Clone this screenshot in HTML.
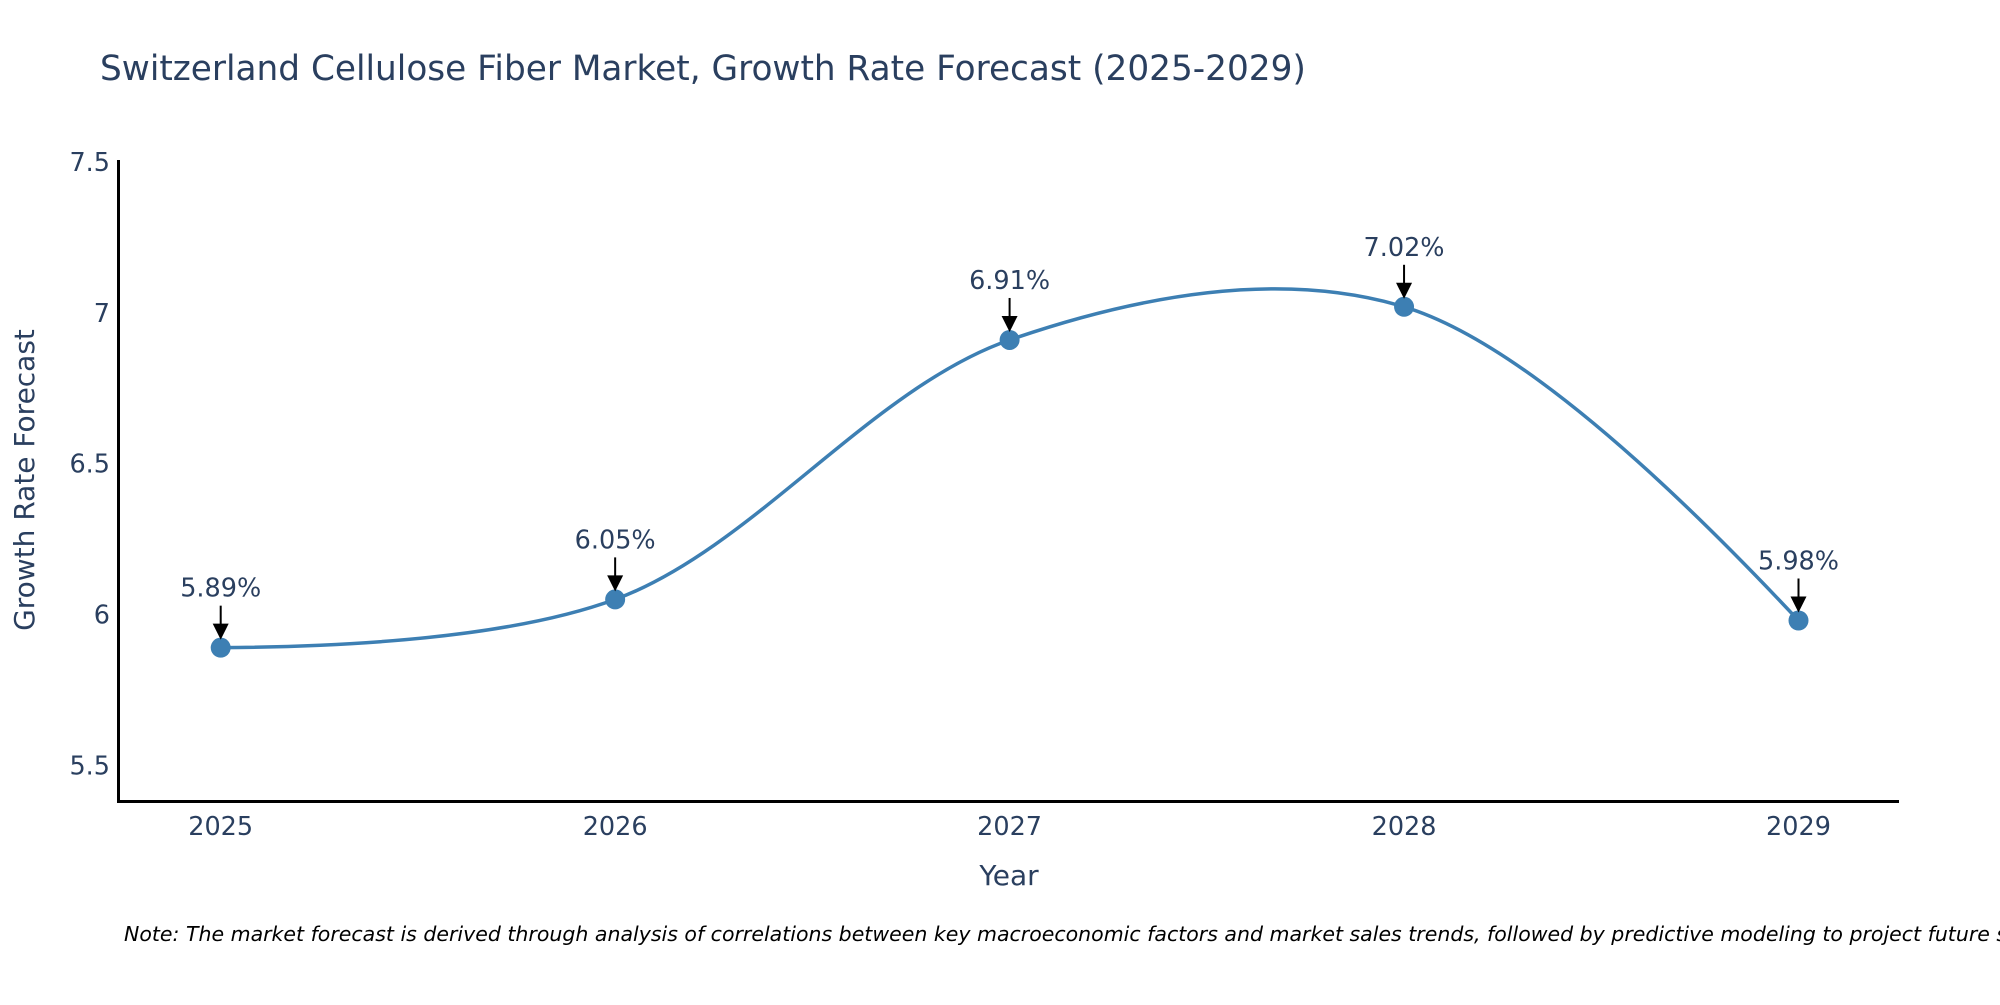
<!DOCTYPE html>
<html><head><meta charset="utf-8"><style>
body{margin:0;background:#fff;width:2000px;height:1000px;overflow:hidden;font-family:"Liberation Sans","DejaVu Sans",sans-serif}
</style></head><body>
<svg id="chart" width="2000" height="1000" viewBox="0 0 2000 1000" xmlns="http://www.w3.org/2000/svg">
<text x="100" y="80" font-size="34.3" fill="#2a3f5f" font-family="DejaVu Sans, sans-serif">Switzerland Cellulose Fiber Market, Growth Rate Forecast (2025-2029)</text>
<g id="yticks"></g><g id="xticks"></g>
<line x1="118.5" y1="160" x2="118.5" y2="802" stroke="#000" stroke-width="3"/>
<line x1="117" y1="801.5" x2="1899" y2="801.5" stroke="#000" stroke-width="3"/>
<path id="curve" fill="none" stroke="#3d7fb3" stroke-width="3.5"/>
<g id="marks"></g>
<text transform="translate(34,480) rotate(-90)" text-anchor="middle" font-size="28" fill="#2a3f5f" font-family="DejaVu Sans, sans-serif">Growth Rate Forecast</text>
<text x="1009" y="885" text-anchor="middle" font-size="28" fill="#2a3f5f" font-family="DejaVu Sans, sans-serif">Year</text>
<text x="124" y="941" font-size="20.5" font-style="italic" fill="#000" font-family="DejaVu Sans, sans-serif">Note: The market forecast is derived through analysis of correlations between key macroeconomic factors and market sales trends, followed by predictive modeling to project future sales.</text>
</svg>
<script>
const years=[2025,2026,2027,2028,2029];
const values=[5.89,6.05,6.91,7.02,5.98];
const labels=["5.89%","6.05%","6.91%","7.02%","5.98%"];
const yTicks=[5.5,6,6.5,7,7.5];
const yTickLabels=["5.5","6","6.5","7","7.5"];
const NS="http://www.w3.org/2000/svg";
const X=v=>220.7+(v-2025)*(1798.5-220.7)/4;
const Y=v=>765.3-(v-5.5)*(765.3-162)/2;
function mk(t,a,p){const e=document.createElementNS(NS,t);for(const k in a)e.setAttribute(k,a[k]);p.appendChild(e);return e;}
const yt=document.getElementById('yticks');
yTicks.forEach((v,i)=>{const t=mk('text',{x:110,y:Y(v)+9,'text-anchor':'end','font-size':25.5,fill:'#2a3f5f','font-family':'DejaVu Sans, sans-serif'},yt);


t.textContent=yTickLabels[i];});
const xt=document.getElementById('xticks');
years.forEach(v=>{const t=mk('text',{x:X(v),y:835,'text-anchor':'middle','font-size':25.5,fill:'#2a3f5f','font-family':'DejaVu Sans, sans-serif'},xt);


t.textContent=v;});
const pts=years.map((y,i)=>[X(y),Y(values[i])]);
function tan(p,c,n,s){const d1x=p[0]-c[0],d1y=p[1]-c[1],d2x=n[0]-c[0],d2y=n[1]-c[1];
const d1a=Math.pow(d1x*d1x+d1y*d1y,0.25),d2a=Math.pow(d2x*d2x+d2y*d2y,0.25);
const nx=(d2a*d2a*d1x-d1a*d1a*d2x)*s,ny=(d2a*d2a*d1y-d1a*d1a*d2y)*s;
const dn1=3*d2a*(d1a+d2a),dn2=3*d1a*(d1a+d2a);
return [[c[0]+nx/dn1,c[1]+ny/dn1],[c[0]-nx/dn2,c[1]-ny/dn2]];}
const tg=[];for(let i=1;i<pts.length-1;i++)tg.push(tan(pts[i-1],pts[i],pts[i+1],1));
const P=p=>p[0].toFixed(2)+','+p[1].toFixed(2);
let d='M'+P(pts[0])+'Q'+P(tg[0][0])+' '+P(pts[1]);
for(let i=2;i<pts.length-1;i++)d+='C'+P(tg[i-2][1])+' '+P(tg[i-1][0])+' '+P(pts[i]);
d+='Q'+P(tg[tg.length-1][1])+' '+P(pts[pts.length-1]);
document.getElementById('curve').setAttribute('d',d);
const mg=document.getElementById('marks');
pts.forEach((p,i)=>{
const c=mk('circle',{cx:p[0],cy:p[1],r:10,fill:'#3d7fb3'},mg);


const l=mk('line',{x1:p[0],y1:p[1]-42,x2:p[0],y2:p[1]-22,stroke:'#000','stroke-width':2},mg);


const h=mk('polygon',{points:`${p[0]-8},${p[1]-24} ${p[0]+8},${p[1]-24} ${p[0]},${p[1]-8}`,fill:'#000'},mg);


const t=mk('text',{x:p[0],y:p[1]-51,'text-anchor':'middle','font-size':25.5,fill:'#2a3f5f','font-family':'DejaVu Sans, sans-serif'},mg);


t.textContent=labels[i];});
</script>
</body></html>
